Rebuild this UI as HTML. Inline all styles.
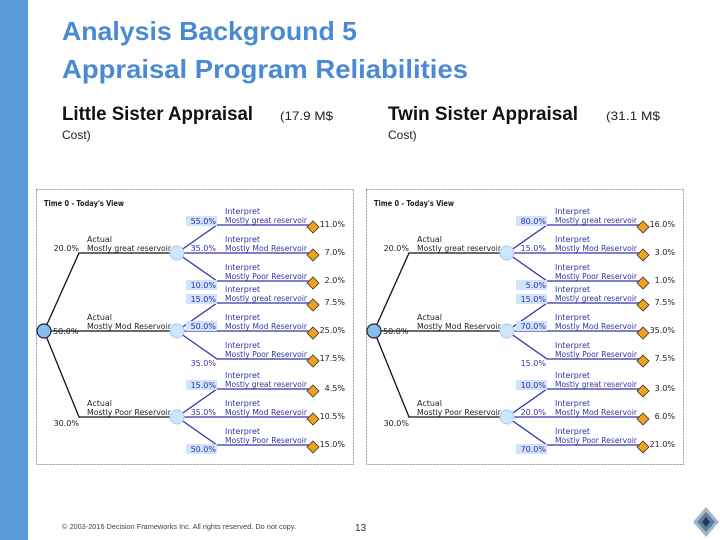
<!DOCTYPE html>
<html><head><meta charset="utf-8"><style>
html,body{margin:0;padding:0;background:#fff;width:720px;height:540px;overflow:hidden}
svg{display:block}
</style></head><body>
<svg id="page" width="720" height="540" viewBox="0 0 720 540" xmlns="http://www.w3.org/2000/svg" font-family="'Liberation Sans', sans-serif">
<rect x="0" y="0" width="28" height="540" fill="#5b9bdb"/>
<text x="62" y="40" font-size="26" font-weight="bold" fill="#4a8ad2" textLength="295" lengthAdjust="spacingAndGlyphs">Analysis Background 5</text>
<text x="62" y="78" font-size="26" font-weight="bold" fill="#4a8ad2" textLength="406" lengthAdjust="spacingAndGlyphs">Appraisal Program Reliabilities</text>
<text x="62" y="120" font-size="19" font-weight="bold" fill="#111" textLength="191" lengthAdjust="spacingAndGlyphs">Little Sister Appraisal</text>
<text x="280" y="120" font-size="12" fill="#222" textLength="53" lengthAdjust="spacingAndGlyphs">(17.9 M$</text>
<text x="62" y="139" font-size="12" fill="#222">Cost)</text>
<text x="388" y="120" font-size="19" font-weight="bold" fill="#111" textLength="190" lengthAdjust="spacingAndGlyphs">Twin Sister Appraisal</text>
<text x="606" y="120" font-size="12" fill="#222" textLength="54" lengthAdjust="spacingAndGlyphs">(31.1 M$</text>
<text x="388" y="139" font-size="12" fill="#222">Cost)</text>
<g id="trees"></g>
<text x="62" y="529" font-size="7" fill="#444" textLength="234" lengthAdjust="spacingAndGlyphs">© 2003-2016 Decision Frameworks Inc. All rights reserved. Do not copy.</text>
<text x="355" y="531" font-size="10" fill="#333">13</text>
<g transform="translate(706,522)">
<polygon points="0,-15 13,0 0,15 -13,0" fill="#9fb8cc"/>
<polygon points="0,-10 9,0 0,10 -9,0" fill="#5d7f9a"/>
<polygon points="0,-5 4,0 0,5 -4,0" fill="#1f3b55"/>
</g>
</svg>
<script>
const rootProbs = ["20.0%","50.0%","30.0%"];
const actualLabels = ["Mostly great reservoir","Mostly Mod Reservoir","Mostly Poor Reservoir"];
const interpLabels = ["Mostly great reservoir","Mostly Mod Reservoir","Mostly Poor Reservoir"];
const leftCond = [55,35,10, 15,50,35, 15,35,50];
const leftJoint = [11.0,7.0,2.0, 7.5,25.0,17.5, 4.5,10.5,15.0];
const leftBoxed = [1,0,1, 1,1,0, 1,0,1];
const rightCond = [80,15,5, 15,70,15, 10,20,70];
const rightJoint = [16.0,3.0,1.0, 7.5,35.0,7.5, 3.0,6.0,21.0];
const rightBoxed = [1,0,1, 1,1,0, 1,0,1];

const NS="http://www.w3.org/2000/svg";
const g=document.getElementById('trees');
function mk(tag,attrs,parent,txt){const e=document.createElementNS(NS,tag);for(const k in attrs)e.setAttribute(k,attrs[k]);if(txt!==undefined)e.textContent=txt;parent.appendChild(e);return e;}
const groupY=[253,331,417];
const spacing=28;
const F="'DejaVu Sans', sans-serif";
function txt(p,x,y,s,fill,w,anchor,len){
  const a={x:x,y:y,'font-size':s,'font-family':F,fill:fill,'font-weight':w||'normal'};
  if(anchor)a['text-anchor']=anchor;
  if(len){a.textLength=len;a.lengthAdjust='spacingAndGlyphs';}
  return a;
}
function drawTree(ox,boxW,cond,joint,boxed,name){
  const t=mk('g',{},g);
  
  
  mk('rect',{x:ox+0.5,y:189.5,width:boxW,height:275,fill:'#fff',stroke:'#999','stroke-dasharray':'2,1'},t);
  mk('text',txt(t,ox+8,206,7.5,'#222','bold',null,80),t,"Time 0 - Today's View");
  const rx=ox+8, ry=331, cx=ox+141;
  for(let i=0;i<3;i++){
    const cy=groupY[i];
    mk('polyline',{points:`${rx},${ry} ${ox+43},${cy} ${cx},${cy}`,fill:'none',stroke:'#111','stroke-width':1.3},t);
    if(i===1) mk('text',txt(t,ox+17,cy+3,8,'#222','normal'),t,rootProbs[i]);
    else mk('text',txt(t,ox+43,i===0?cy-2:cy+9,8,'#222','normal','end'),t,rootProbs[i]);
    mk('text',txt(t,ox+51,cy-11,8,'#222','normal',null,25),t,'Actual');
    mk('text',txt(t,ox+51,cy-2,8,'#222','normal',null,84),t,actualLabels[i]);
    for(let j=0;j<3;j++){
      const k=i*3+j; const ly=cy+(j-1)*spacing;
      mk('polyline',{points:`${cx},${cy} ${ox+181},${ly} ${ox+273},${ly}`,fill:'none',stroke:'#3333aa','stroke-width':1.3},t);
      const ty = j===0?ly-1:(j===1?ly-2:ly+7);
      if(boxed[k]) mk('rect',{x:ox+150,y:ty-8,width:31,height:10,fill:'#cfe3fb'},t);
      mk('text',txt(t,ox+180,ty,8,'#3333aa','normal','end'),t,cond[k].toFixed(1)+'%');
      mk('text',txt(t,ox+189,ly-11,8,'#3333aa','normal',null,35),t,'Interpret');
      mk('text',txt(t,ox+189,ly-2,8,'#3333aa','normal',null,82),t,interpLabels[j]);
      const dx=ox+277, dy=ly+2;
      mk('polygon',{points:`${dx},${dy-6} ${dx+6},${dy} ${dx},${dy+6} ${dx-6},${dy}`,fill:'#f0a020',stroke:'#333','stroke-width':0.8},t);
      mk('text',txt(t,ox+309,ly+2,8,'#222','normal','end'),t,joint[k].toFixed(1)+'%');
    }
    mk('circle',{cx:cx,cy:cy,r:7,fill:'#cde6fb',stroke:'#a8cdee','stroke-width':1},t);
  }
  mk('circle',{cx:rx,cy:ry,r:7,fill:'#88bdf0',stroke:'#223','stroke-width':1.2},t);
}
drawTree(36,317,leftCond,leftJoint,leftBoxed,'left-decision-tree');
drawTree(366,317,rightCond,rightJoint,rightBoxed,'right-decision-tree');
</script>
</body></html>
